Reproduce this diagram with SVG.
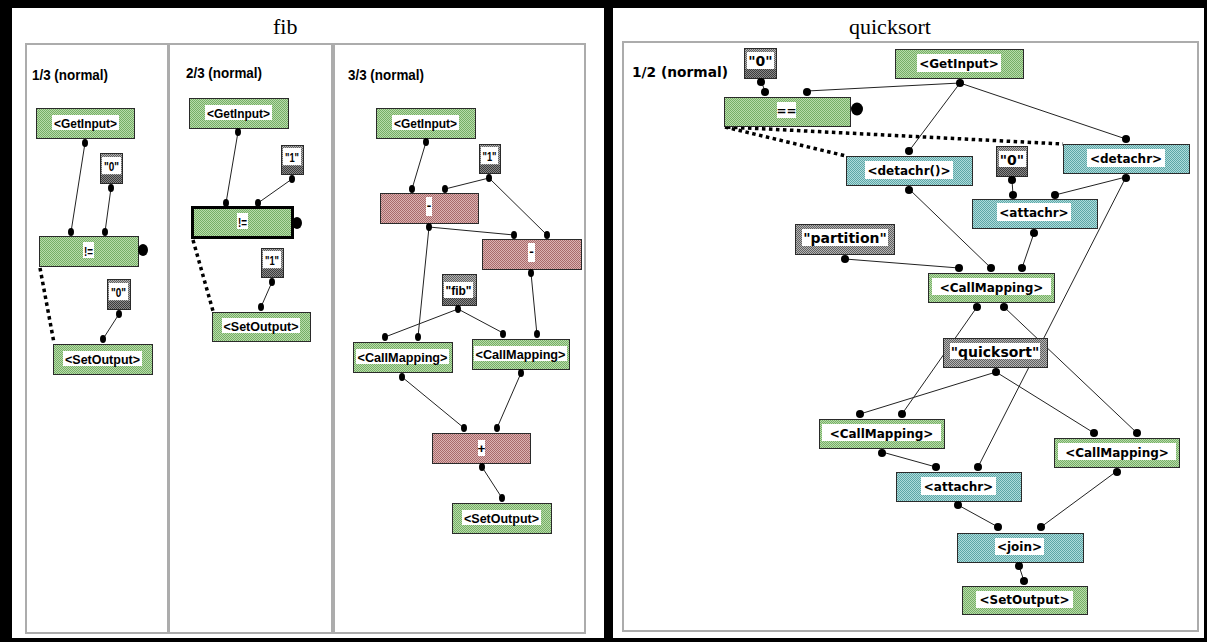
<svg xmlns="http://www.w3.org/2000/svg" width="1207" height="642" viewBox="0 0 1207 642">
  <style>
    .panel { fill: #ffffff; }
    .sub { fill: #ffffff; stroke: #acacac; stroke-width: 1.6; shape-rendering: crispEdges; }
    .title { font-family: "Liberation Serif", "Times New Roman", serif; font-size: 22px; fill: #000; }
    .cap { font-family: "Liberation Sans", Arial, sans-serif; font-weight: bold; font-size: 14.5px; fill: #000; }
    .capr { font-family: "DejaVu Sans", Verdana, sans-serif; font-weight: bold; font-size: 14px; fill: #000; }
    .box { stroke: #2a2a2a; stroke-width: 1; shape-rendering: crispEdges; }
    .sel { stroke: #000; stroke-width: 2.5; shape-rendering: crispEdges; }
    .green { fill: url(#pGreen); }
    .red { fill: url(#pRed); }
    .teal { fill: url(#pTeal); }
    .gray { fill: url(#pGray); }
    .band { fill: url(#pDark); shape-rendering: crispEdges; }
    .lbl { fill: #ffffff; shape-rendering: crispEdges; }
    .tl { font-family: "Liberation Sans", Arial, sans-serif; font-weight: bold; font-size: 13.5px; text-anchor: middle; fill: #000; }
    .tr { font-family: "DejaVu Sans", Verdana, sans-serif; font-weight: bold; font-size: 12px; text-anchor: middle; fill: #000; }
    .tc { font-family: "DejaVu Sans", Verdana, sans-serif; font-weight: bold; font-size: 14px; text-anchor: middle; fill: #000; }
    .port { fill: #000; }
    .wire { stroke: #222; stroke-width: 1; fill: none; }
    .ctl { stroke: #000; stroke-width: 3.5; stroke-dasharray: 3.5 3.5; fill: none; }
  </style>
  <defs>
    <pattern id="pGreen" width="2" height="2" patternUnits="userSpaceOnUse">
      <rect width="2" height="2" fill="#b8dcaa"/>
      <rect width="1" height="1" fill="#76ae66"/>
      <rect x="1" y="1" width="1" height="1" fill="#76ae66"/>
    </pattern>
    <pattern id="pRed" width="2" height="2" patternUnits="userSpaceOnUse">
      <rect width="2" height="2" fill="#dcb2b2"/>
      <rect width="1" height="1" fill="#a86a6a"/>
      <rect x="1" y="1" width="1" height="1" fill="#a86a6a"/>
    </pattern>
    <pattern id="pTeal" width="2" height="2" patternUnits="userSpaceOnUse">
      <rect width="2" height="2" fill="#aedcdc"/>
      <rect width="1" height="1" fill="#5ea6a6"/>
      <rect x="1" y="1" width="1" height="1" fill="#5ea6a6"/>
    </pattern>
    <pattern id="pGray" width="2" height="2" patternUnits="userSpaceOnUse">
      <rect width="2" height="2" fill="#b4b4b4"/>
      <rect width="1" height="1" fill="#606060"/>
      <rect x="1" y="1" width="1" height="1" fill="#606060"/>
    </pattern>
    <pattern id="pDark" width="2" height="2" patternUnits="userSpaceOnUse">
      <rect width="2" height="2" fill="#8a8a8a"/>
      <rect width="1" height="1" fill="#3c3c3c"/>
      <rect x="1" y="1" width="1" height="1" fill="#3c3c3c"/>
    </pattern>
  </defs>

  <!-- window frame -->
  <rect x="0" y="0" width="1207" height="642" fill="#000"/>
  <rect class="panel" x="12" y="8" width="592" height="630"/>
  <rect class="panel" x="613" y="8" width="591" height="630"/>

  <text class="title" x="273" y="34">fib</text>
  <text class="title" x="849" y="34">quicksort</text>

  <!-- sub-panels -->
  <rect class="sub" x="26" y="44" width="142" height="589"/>
  <rect class="sub" x="169" y="44" width="163" height="589"/>
  <rect class="sub" x="334" y="44" width="251" height="589"/>
  <rect class="sub" x="623" y="42" width="575" height="589"/>

  <text class="cap" x="32" y="80" textLength="76" lengthAdjust="spacingAndGlyphs">1/3 (normal)</text>
  <text class="cap" x="186" y="78" textLength="76" lengthAdjust="spacingAndGlyphs">2/3 (normal)</text>
  <text class="cap" x="348" y="80" textLength="76" lengthAdjust="spacingAndGlyphs">3/3 (normal)</text>
  <text class="capr" x="632" y="77" textLength="96" lengthAdjust="spacingAndGlyphs">1/2 (normal)</text>

  <!-- connectors -->
  <g id="connectors">
    <!-- fib 1/3 -->
    <line class="wire" x1="85" y1="143" x2="71" y2="232"/>
    <line class="wire" x1="111" y1="188" x2="105" y2="232"/>
    <line class="wire" x1="119" y1="314" x2="103" y2="339"/>
    <line class="ctl" x1="40" y1="268" x2="54" y2="343"/>
    <!-- fib 2/3 -->
    <line class="wire" x1="238" y1="132" x2="226" y2="203"/>
    <line class="wire" x1="292" y1="179" x2="258" y2="203"/>
    <line class="wire" x1="272" y1="282" x2="261" y2="307"/>
    <line class="ctl" x1="193" y1="240" x2="213" y2="311"/>
    <!-- fib 3/3 -->
    <line class="wire" x1="426" y1="142" x2="412" y2="189"/>
    <line class="wire" x1="489" y1="178" x2="445" y2="189"/>
    <line class="wire" x1="489" y1="178" x2="547" y2="235"/>
    <line class="wire" x1="429" y1="227" x2="514" y2="235"/>
    <line class="wire" x1="429" y1="227" x2="418" y2="337"/>
    <line class="wire" x1="531" y1="273" x2="537" y2="335"/>
    <line class="wire" x1="458" y1="309" x2="385" y2="337"/>
    <line class="wire" x1="458" y1="309" x2="503" y2="333"/>
    <line class="wire" x1="402" y1="377" x2="464" y2="428"/>
    <line class="wire" x1="521" y1="373" x2="497" y2="428"/>
    <line class="wire" x1="482" y1="467" x2="502" y2="498"/>
    <!-- quicksort 1/2 -->
    <line class="wire" x1="761" y1="81" x2="765" y2="91"/>
    <line class="wire" x1="807" y1="91" x2="960" y2="83"/>
    <line class="wire" x1="960" y1="83" x2="909" y2="151"/>
    <line class="wire" x1="960" y1="83" x2="1126" y2="139"/>
    <line class="wire" x1="1012" y1="180" x2="1013" y2="195"/>
    <line class="wire" x1="1126" y1="177" x2="1055" y2="195"/>
    <line class="wire" x1="845" y1="259" x2="959" y2="268"/>
    <line class="wire" x1="909" y1="189" x2="991" y2="268"/>
    <line class="wire" x1="1034" y1="233" x2="1022" y2="268"/>
    <line class="wire" x1="977" y1="307" x2="902" y2="414"/>
    <line class="wire" x1="1004" y1="307" x2="1137" y2="433"/>
    <line class="wire" x1="996" y1="372" x2="860" y2="414"/>
    <line class="wire" x1="996" y1="372" x2="1094" y2="433"/>
    <line class="wire" x1="1126" y1="177" x2="978" y2="467"/>
    <line class="wire" x1="882" y1="452" x2="936" y2="467"/>
    <line class="wire" x1="958" y1="505" x2="998" y2="527"/>
    <line class="wire" x1="1117" y1="471" x2="1041" y2="527"/>
    <line class="wire" x1="1019" y1="566" x2="1024" y2="581"/>
    <line class="ctl" x1="725" y1="127" x2="846" y2="156"/>
    <line class="ctl" x1="727" y1="127" x2="1063" y2="144"/>
  </g>

  <!-- fib 1/3 -->
  <g id="f1-getinput">
    <rect class="box green" x="36.5" y="108.5" width="98" height="30"/>
    <rect class="lbl" x="52" y="115" width="67" height="15"/>
    <text class="tl" x="85.5" y="127.5" textLength="63" lengthAdjust="spacingAndGlyphs">&lt;GetInput&gt;</text>
    <ellipse class="port" cx="85" cy="143" rx="3" ry="4"/>
  </g>
  <g id="f1-zero-a">
    <rect class="box gray" x="100.5" y="153.5" width="22" height="30"/>
    <rect class="band" x="101" y="175" width="21" height="8"/>
    <rect class="lbl" x="102" y="157" width="19" height="17"/>
    <text class="tl" x="111.5" y="170.5" textLength="15" lengthAdjust="spacingAndGlyphs">"0"</text>
    <ellipse class="port" cx="111" cy="188" rx="3" ry="4"/>
  </g>
  <g id="f1-ne">
    <rect class="box green" x="39.5" y="236.5" width="99" height="30"/>
    <rect class="lbl" x="83" y="242" width="11" height="16"/>
    <text class="tl" x="88.5" y="255.5" textLength="9" lengthAdjust="spacingAndGlyphs">!=</text>
    <ellipse class="port" cx="71" cy="232" rx="3" ry="4"/>
    <ellipse class="port" cx="105" cy="232" rx="3" ry="4"/>
    <ellipse class="port" cx="143" cy="250" rx="5" ry="6"/>
  </g>
  <g id="f1-zero-b">
    <rect class="box gray" x="107.5" y="279.5" width="23" height="30"/>
    <rect class="band" x="108" y="301" width="22" height="8"/>
    <rect class="lbl" x="109" y="283" width="19" height="17"/>
    <text class="tl" x="118.5" y="296.5" textLength="15" lengthAdjust="spacingAndGlyphs">"0"</text>
    <ellipse class="port" cx="119" cy="314" rx="3" ry="4"/>
  </g>
  <g id="f1-setoutput">
    <rect class="box green" x="53.5" y="344.5" width="99" height="30"/>
    <rect class="lbl" x="63" y="351" width="79" height="15"/>
    <text class="tl" x="102.5" y="363.5" textLength="75" lengthAdjust="spacingAndGlyphs">&lt;SetOutput&gt;</text>
    <ellipse class="port" cx="103" cy="339" rx="3" ry="4"/>
  </g>

  <!-- fib 2/3 -->
  <g id="f2-getinput">
    <rect class="box green" x="189.5" y="98.5" width="99" height="30"/>
    <rect class="lbl" x="205" y="105" width="67" height="15"/>
    <text class="tl" x="238.5" y="117.5" textLength="63" lengthAdjust="spacingAndGlyphs">&lt;GetInput&gt;</text>
    <ellipse class="port" cx="238" cy="132" rx="3" ry="4"/>
  </g>
  <g id="f2-one-a">
    <rect class="box gray" x="281.5" y="145.5" width="22" height="29"/>
    <rect class="band" x="282" y="166" width="21" height="8"/>
    <rect class="lbl" x="283" y="148" width="18" height="17"/>
    <text class="tl" x="292" y="161.5" textLength="14" lengthAdjust="spacingAndGlyphs">"1"</text>
    <ellipse class="port" cx="292" cy="179" rx="3" ry="4"/>
  </g>
  <g id="f2-ne">
    <rect class="sel green" x="192.5" y="207.5" width="100" height="30"/>
    <rect class="lbl" x="237" y="213" width="11" height="16"/>
    <text class="tl" x="242.5" y="226.5" textLength="9" lengthAdjust="spacingAndGlyphs">!=</text>
    <ellipse class="port" cx="226" cy="203" rx="3" ry="4"/>
    <ellipse class="port" cx="258" cy="203" rx="3" ry="4"/>
    <ellipse class="port" cx="297" cy="223" rx="5" ry="6"/>
  </g>
  <g id="f2-one-b">
    <rect class="box gray" x="261.5" y="248.5" width="22" height="29"/>
    <rect class="band" x="262" y="269" width="21" height="8"/>
    <rect class="lbl" x="263" y="251" width="18" height="17"/>
    <text class="tl" x="272" y="264.5" textLength="14" lengthAdjust="spacingAndGlyphs">"1"</text>
    <ellipse class="port" cx="272" cy="282" rx="3" ry="4"/>
  </g>
  <g id="f2-setoutput">
    <rect class="box green" x="212.5" y="312.5" width="98" height="29"/>
    <rect class="lbl" x="222" y="318" width="78" height="15"/>
    <text class="tl" x="261" y="330.5" textLength="75" lengthAdjust="spacingAndGlyphs">&lt;SetOutput&gt;</text>
    <ellipse class="port" cx="261" cy="307" rx="3" ry="4"/>
  </g>

  <!-- fib 3/3 -->
  <g id="f3-getinput">
    <rect class="box green" x="376.5" y="108.5" width="99" height="30"/>
    <rect class="lbl" x="392" y="115" width="67" height="15"/>
    <text class="tl" x="425.5" y="127.5" textLength="63" lengthAdjust="spacingAndGlyphs">&lt;GetInput&gt;</text>
    <ellipse class="port" cx="426" cy="142" rx="3" ry="4"/>
  </g>
  <g id="f3-one">
    <rect class="box gray" x="479.5" y="144.5" width="21" height="29"/>
    <rect class="band" x="480" y="165" width="20" height="8"/>
    <rect class="lbl" x="481" y="147" width="17" height="17"/>
    <text class="tl" x="489.5" y="160.5" textLength="14" lengthAdjust="spacingAndGlyphs">"1"</text>
    <ellipse class="port" cx="489" cy="178" rx="3" ry="4"/>
  </g>
  <g id="f3-minus-a">
    <rect class="box red" x="380.5" y="193.5" width="98" height="30"/>
    <rect class="lbl" x="426" y="197" width="6" height="19"/>
    <text class="tl" x="429" y="210">-</text>
    <ellipse class="port" cx="412" cy="189" rx="3" ry="4"/>
    <ellipse class="port" cx="445" cy="189" rx="3" ry="4"/>
    <ellipse class="port" cx="429" cy="227" rx="3" ry="4"/>
  </g>
  <g id="f3-minus-b">
    <rect class="box red" x="482.5" y="239.5" width="99" height="30"/>
    <rect class="lbl" x="528" y="243" width="7" height="19"/>
    <text class="tl" x="531.5" y="256">-</text>
    <ellipse class="port" cx="514" cy="235" rx="3" ry="4"/>
    <ellipse class="port" cx="547" cy="235" rx="3" ry="4"/>
    <ellipse class="port" cx="531" cy="273" rx="3" ry="4"/>
  </g>
  <g id="f3-fib">
    <rect class="box gray" x="442.5" y="274.5" width="34" height="31"/>
    <rect class="band" x="443" y="297" width="33" height="8"/>
    <rect class="lbl" x="444" y="282" width="29" height="16"/>
    <text class="tl" x="458.5" y="294.5" textLength="26" lengthAdjust="spacingAndGlyphs">"fib"</text>
    <ellipse class="port" cx="458" cy="309" rx="3" ry="4"/>
  </g>
  <g id="f3-callmapping-a">
    <rect class="box green" x="353.5" y="342.5" width="99" height="30"/>
    <rect class="lbl" x="356" y="349" width="93" height="15"/>
    <text class="tl" x="402.5" y="361.5" textLength="90" lengthAdjust="spacingAndGlyphs">&lt;CallMapping&gt;</text>
    <ellipse class="port" cx="385" cy="337" rx="3" ry="4"/>
    <ellipse class="port" cx="418" cy="337" rx="3" ry="4"/>
    <ellipse class="port" cx="402" cy="377" rx="3" ry="4"/>
  </g>
  <g id="f3-callmapping-b">
    <rect class="box green" x="472.5" y="339.5" width="97" height="30"/>
    <rect class="lbl" x="474" y="346" width="93" height="15"/>
    <text class="tl" x="520.5" y="358.5" textLength="90" lengthAdjust="spacingAndGlyphs">&lt;CallMapping&gt;</text>
    <ellipse class="port" cx="503" cy="334" rx="3" ry="4"/>
    <ellipse class="port" cx="537" cy="334" rx="3" ry="4"/>
    <ellipse class="port" cx="521" cy="373" rx="3" ry="4"/>
  </g>
  <g id="f3-plus">
    <rect class="box red" x="432.5" y="433.5" width="98" height="30"/>
    <rect class="lbl" x="478" y="440" width="7" height="16"/>
    <text class="tl" x="481.5" y="452.5">+</text>
    <ellipse class="port" cx="464" cy="428" rx="3" ry="4"/>
    <ellipse class="port" cx="497" cy="428" rx="3" ry="4"/>
    <ellipse class="port" cx="482" cy="467" rx="3" ry="4"/>
  </g>
  <g id="f3-setoutput">
    <rect class="box green" x="452.5" y="503.5" width="99" height="30"/>
    <rect class="lbl" x="462" y="510" width="79" height="15"/>
    <text class="tl" x="501.5" y="522.5" textLength="75" lengthAdjust="spacingAndGlyphs">&lt;SetOutput&gt;</text>
    <ellipse class="port" cx="502" cy="498" rx="3" ry="4"/>
  </g>

  <!-- quicksort 1/2 -->
  <g id="q-zero-a">
    <rect class="box gray" x="744.5" y="48.5" width="32" height="30"/>
    <rect class="band" x="745" y="69" width="31" height="9"/>
    <rect class="lbl" x="747" y="52" width="27" height="17"/>
    <text class="tc" x="760.5" y="66">"0"</text>
    <ellipse class="port" cx="761" cy="82" rx="4" ry="4"/>
  </g>
  <g id="q-eq">
    <rect class="box green" x="724.5" y="97.5" width="126" height="29"/>
    <rect class="lbl" x="777" y="102" width="19" height="16"/>
    <text class="tr" x="786.5" y="115">==</text>
    <ellipse class="port" cx="765" cy="92" rx="4" ry="4"/>
    <ellipse class="port" cx="807" cy="92" rx="4" ry="4"/>
    <ellipse class="port" cx="857" cy="109" rx="6" ry="6.5"/>
  </g>
  <g id="q-getinput">
    <rect class="box green" x="895.5" y="49.5" width="128" height="29"/>
    <rect class="lbl" x="917" y="54" width="84" height="18"/>
    <text class="tr" x="959" y="68">&lt;GetInput&gt;</text>
    <ellipse class="port" cx="960" cy="83" rx="4" ry="4"/>
  </g>
  <g id="q-detachr-call">
    <rect class="box teal" x="846.5" y="156.5" width="126" height="29"/>
    <rect class="lbl" x="865" y="161" width="88" height="18"/>
    <text class="tr" x="909" y="175">&lt;detachr()&gt;</text>
    <ellipse class="port" cx="909" cy="151" rx="4" ry="4"/>
    <ellipse class="port" cx="909" cy="190" rx="4" ry="4"/>
  </g>
  <g id="q-detachr">
    <rect class="box teal" x="1063.5" y="144.5" width="126" height="29"/>
    <rect class="lbl" x="1087" y="149" width="78" height="18"/>
    <text class="tr" x="1126" y="163">&lt;detachr&gt;</text>
    <ellipse class="port" cx="1126" cy="139" rx="4" ry="4"/>
    <ellipse class="port" cx="1126" cy="178" rx="4" ry="4"/>
  </g>
  <g id="q-zero-b">
    <rect class="box gray" x="996.5" y="146.5" width="31" height="30"/>
    <rect class="band" x="997" y="167" width="30" height="9"/>
    <rect class="lbl" x="999" y="151" width="27" height="16"/>
    <text class="tc" x="1012" y="165">"0"</text>
    <ellipse class="port" cx="1012" cy="180" rx="4" ry="4"/>
  </g>
  <g id="q-attachr-a">
    <rect class="box teal" x="972.5" y="199.5" width="125" height="29"/>
    <rect class="lbl" x="997" y="203" width="74" height="18"/>
    <text class="tr" x="1034" y="217">&lt;attachr&gt;</text>
    <ellipse class="port" cx="1013" cy="195" rx="4" ry="4"/>
    <ellipse class="port" cx="1055" cy="195" rx="4" ry="4"/>
    <ellipse class="port" cx="1034" cy="233" rx="4" ry="4"/>
  </g>
  <g id="q-partition">
    <rect class="box gray" x="795.5" y="224.5" width="99" height="30"/>
    <rect class="lbl" x="802" y="229" width="86" height="17"/>
    <text class="tc" x="845" y="243">"partition"</text>
    <ellipse class="port" cx="845" cy="259" rx="4" ry="4"/>
  </g>
  <g id="q-callmapping-a">
    <rect class="box green" x="928.5" y="273.5" width="126" height="29"/>
    <rect class="lbl" x="932" y="278" width="119" height="17"/>
    <text class="tr" x="991.5" y="292">&lt;CallMapping&gt;</text>
    <ellipse class="port" cx="959" cy="268" rx="4" ry="4"/>
    <ellipse class="port" cx="991" cy="268" rx="4" ry="4"/>
    <ellipse class="port" cx="1022" cy="268" rx="4" ry="4"/>
    <ellipse class="port" cx="977" cy="307" rx="4" ry="4"/>
    <ellipse class="port" cx="1004" cy="307" rx="4" ry="4"/>
  </g>
  <g id="q-quicksort">
    <rect class="box gray" x="943.5" y="338.5" width="104" height="29"/>
    <rect class="lbl" x="950" y="343" width="90" height="16"/>
    <text class="tc" x="995" y="357">"quicksort"</text>
    <ellipse class="port" cx="996" cy="372" rx="4" ry="4"/>
  </g>
  <g id="q-callmapping-b">
    <rect class="box green" x="819.5" y="419.5" width="125" height="29"/>
    <rect class="lbl" x="822" y="424" width="119" height="17"/>
    <text class="tr" x="881.5" y="438">&lt;CallMapping&gt;</text>
    <ellipse class="port" cx="860" cy="414" rx="4" ry="4"/>
    <ellipse class="port" cx="902" cy="414" rx="4" ry="4"/>
    <ellipse class="port" cx="882" cy="453" rx="4" ry="4"/>
  </g>
  <g id="q-callmapping-c">
    <rect class="box green" x="1054.5" y="438.5" width="125" height="29"/>
    <rect class="lbl" x="1058" y="443" width="118" height="17"/>
    <text class="tr" x="1117" y="457">&lt;CallMapping&gt;</text>
    <ellipse class="port" cx="1094" cy="433" rx="4" ry="4"/>
    <ellipse class="port" cx="1137" cy="433" rx="4" ry="4"/>
    <ellipse class="port" cx="1117" cy="472" rx="4" ry="4"/>
  </g>
  <g id="q-attachr-b">
    <rect class="box teal" x="896.5" y="472.5" width="125" height="29"/>
    <rect class="lbl" x="921" y="477" width="75" height="18"/>
    <text class="tr" x="958.5" y="491">&lt;attachr&gt;</text>
    <ellipse class="port" cx="936" cy="467" rx="4" ry="4"/>
    <ellipse class="port" cx="978" cy="467" rx="4" ry="4"/>
    <ellipse class="port" cx="958" cy="505" rx="4" ry="4"/>
  </g>
  <g id="q-join">
    <rect class="box teal" x="957.5" y="533.5" width="126" height="29"/>
    <rect class="lbl" x="995" y="538" width="49" height="17"/>
    <text class="tr" x="1019.5" y="551">&lt;join&gt;</text>
    <ellipse class="port" cx="998" cy="527" rx="4" ry="4"/>
    <ellipse class="port" cx="1041" cy="527" rx="4" ry="4"/>
    <ellipse class="port" cx="1019" cy="566" rx="4" ry="4"/>
  </g>
  <g id="q-setoutput">
    <rect class="box green" x="962.5" y="586.5" width="125" height="28"/>
    <rect class="lbl" x="976" y="591" width="97" height="17"/>
    <text class="tr" x="1024.5" y="604">&lt;SetOutput&gt;</text>
    <ellipse class="port" cx="1024" cy="581" rx="4" ry="4"/>
  </g>
</svg>
